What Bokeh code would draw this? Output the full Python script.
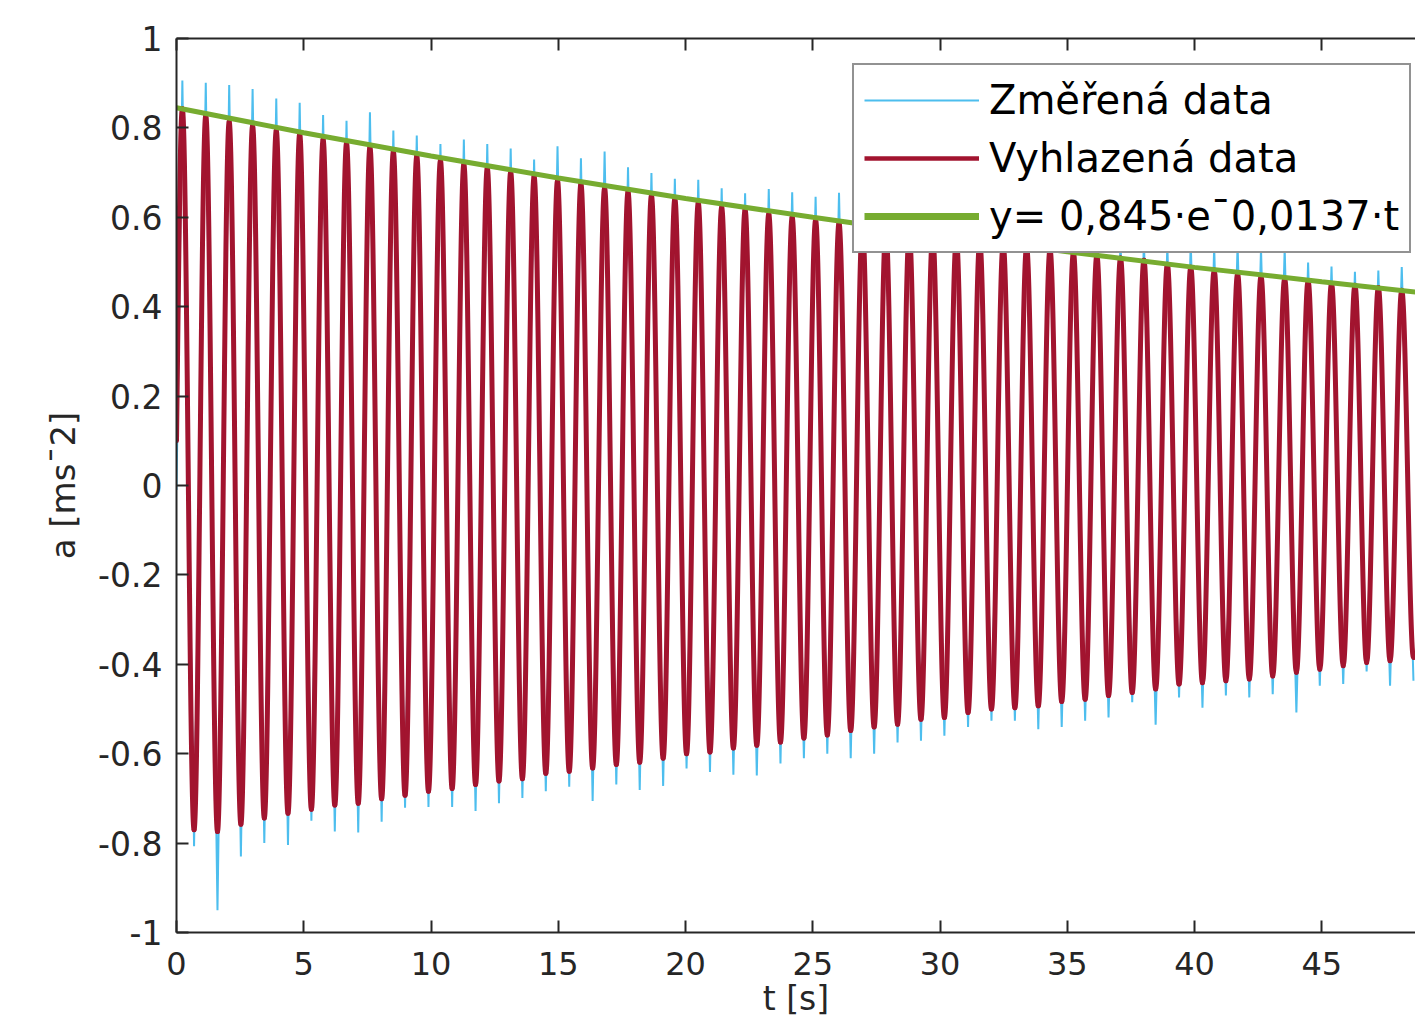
from bokeh.plotting import figure
from bokeh.models import (Range1d, LinearAxis, FixedTicker, Legend, LegendItem,
                          ColumnDataSource)
from bokeh.embed import file_html
from bokeh.resources import INLINE

# ---------------- data ----------------
start_t = 0.0
red_start = 0.10
blue_start = -0.01

peak_t = [0.23, 1.15, 2.07, 2.99, 3.92, 4.84, 5.76, 6.68, 7.60, 8.52,
          9.44, 10.37, 11.29, 12.21, 13.13, 14.05, 14.97, 15.89, 16.82, 17.74,
          18.66, 19.58, 20.50, 21.42, 22.34, 23.27, 24.19, 25.11, 26.03, 26.95,
          27.87, 28.79, 29.71, 30.64, 31.56, 32.48, 33.40, 34.32, 35.24, 36.16,
          37.09, 38.01, 38.93, 39.85, 40.77, 41.69, 42.61, 43.54, 44.46, 45.38,
          46.30, 47.22, 48.14]
red_peak = [0.843, 0.828, 0.814, 0.805, 0.794, 0.787, 0.774, 0.766, 0.757, 0.747,
            0.737, 0.727, 0.718, 0.710, 0.701, 0.691, 0.682, 0.675, 0.665, 0.657,
            0.649, 0.641, 0.632, 0.622, 0.617, 0.607, 0.600, 0.594, 0.587, 0.581,
            0.574, 0.567, 0.560, 0.553, 0.547, 0.540, 0.534, 0.528, 0.521, 0.515,
            0.509, 0.504, 0.495, 0.488, 0.482, 0.474, 0.468, 0.463, 0.458, 0.452,
            0.448, 0.443, 0.437]
blue_peak = [0.906, 0.901, 0.896, 0.887, 0.866, 0.856, 0.829, 0.816, 0.835, 0.794,
             0.783, 0.764, 0.774, 0.764, 0.754, 0.729, 0.759, 0.732, 0.747, 0.712,
             0.699, 0.686, 0.684, 0.665, 0.654, 0.663, 0.656, 0.646, 0.655, 0.630,
             0.620, 0.640, 0.610, 0.620, 0.600, 0.590, 0.600, 0.580, 0.570, 0.580,
             0.550, 0.550, 0.540, 0.545, 0.535, 0.540, 0.530, 0.530, 0.499, 0.490,
             0.478, 0.481, 0.489]

trough_t = [0.69, 1.61, 2.53, 3.45, 4.38, 5.30, 6.22, 7.14, 8.06, 8.98,
            9.90, 10.83, 11.75, 12.67, 13.59, 14.51, 15.43, 16.35, 17.28, 18.20,
            19.12, 20.04, 20.96, 21.88, 22.80, 23.73, 24.65, 25.57, 26.49, 27.41,
            28.33, 29.25, 30.17, 31.10, 32.02, 32.94, 33.86, 34.78, 35.70, 36.62,
            37.55, 38.47, 39.39, 40.31, 41.23, 42.15, 43.07, 44.00, 44.92, 45.84,
            46.76, 47.68, 48.60]
red_trough = [-0.770, -0.774, -0.758, -0.744, -0.733, -0.724, -0.715, -0.711, -0.701, -0.693,
              -0.684, -0.678, -0.669, -0.661, -0.656, -0.644, -0.639, -0.632, -0.624, -0.619,
              -0.610, -0.600, -0.596, -0.587, -0.581, -0.574, -0.565, -0.558, -0.548, -0.540,
              -0.534, -0.523, -0.519, -0.508, -0.500, -0.497, -0.493, -0.483, -0.478, -0.470,
              -0.463, -0.455, -0.444, -0.441, -0.437, -0.433, -0.426, -0.418, -0.411, -0.403,
              -0.396, -0.392, -0.385]
blue_trough = [-0.807, -0.950, -0.830, -0.800, -0.804, -0.750, -0.774, -0.776, -0.752, -0.721,
               -0.719, -0.719, -0.728, -0.711, -0.699, -0.684, -0.674, -0.706, -0.669, -0.681,
               -0.672, -0.633, -0.641, -0.647, -0.649, -0.622, -0.610, -0.600, -0.610, -0.600,
               -0.575, -0.571, -0.560, -0.540, -0.526, -0.526, -0.545, -0.540, -0.526, -0.519,
               -0.485, -0.535, -0.474, -0.497, -0.470, -0.474, -0.467, -0.508, -0.448, -0.444,
               -0.416, -0.448, -0.437]

fit_t = [0, 5, 10, 15, 20, 25, 30, 35, 40, 45, 48.68]
fit_v = [0.845, 0.789, 0.737, 0.688, 0.642, 0.600, 0.560, 0.523, 0.488, 0.456, 0.433]

x_ticks = [0, 5, 10, 15, 20, 25, 30, 35, 40, 45]
x_tick_labels = ["0", "5", "10", "15", "20", "25", "30", "35", "40", "45"]
y_ticks = [-1, -0.8, -0.6, -0.4, -0.2, 0, 0.2, 0.4, 0.6, 0.8, 1]
y_tick_labels = ["-1", "-0.8", "-0.6", "-0.4", "-0.2", "0", "0.2", "0.4", "0.6", "0.8", "1"]
legend_labels = ["Změřená data", "Vyhlazená data", "y= 0,845·e¯0,0137·t"]
x_label = "t [s]"
y_label = "a [ms¯2]"

# ---------------- style ----------------
BLUE = "#4DBEEE"
RED = "#A2142F"
GREEN = "#77AC30"
AX = "#262626"
FONT = "DejaVu Sans"
K = 0.363  # bezier handle fraction (sine-like lobes)

# series assembled from the read values
red_t, red_v = [start_t], [red_start]
blue_t, blue_v = [start_t], [blue_start]
for pt, rp, bp, tt, rt, bt in zip(peak_t, red_peak, blue_peak, trough_t, red_trough, blue_trough):
    red_t += [pt, tt]
    red_v += [rp, rt]
    blue_t += [pt, tt]
    blue_v += [bp, bt]

seg = dict(x0=[], y0=[], x1=[], y1=[], cx0=[], cy0=[], cx1=[], cy1=[])
for i in range(len(red_t) - 1):
    xa, ya, xb, yb = red_t[i], red_v[i], red_t[i + 1], red_v[i + 1]
    h = xb - xa
    seg["x0"].append(xa); seg["y0"].append(ya)
    seg["x1"].append(xb); seg["y1"].append(yb)
    if i == 0:
        seg["cx0"].append(xa + K * h); seg["cy0"].append(ya + 0.5 * (yb - ya))
    else:
        seg["cx0"].append(xa + K * h); seg["cy0"].append(ya)
    seg["cx1"].append(xb - K * h); seg["cy1"].append(yb)
red_src = ColumnDataSource(seg)

p = figure(width=1415, height=1031,
           x_range=Range1d(0, 48.68), y_range=Range1d(-1, 1),
           x_axis_type=None, y_axis_type=None,
           output_backend="svg", toolbar_location=None,
           min_border_left=176, min_border_right=0,
           min_border_top=38, min_border_bottom=99)
p.outline_line_color = None
p.background_fill_color = "white"
p.border_fill_color = "white"


def style_axis(ax, size="32px"):
    ax.axis_line_color = AX
    ax.axis_line_width = 2
    ax.major_tick_in = 12
    ax.major_tick_out = 0
    ax.major_tick_line_color = AX
    ax.major_tick_line_width = 2
    ax.minor_tick_line_color = None
    ax.major_label_text_font = FONT
    ax.major_label_text_font_size = size
    ax.major_label_text_color = AX


xb = LinearAxis(ticker=FixedTicker(ticks=x_ticks),
                major_label_overrides=dict(zip(x_ticks, x_tick_labels)),
                axis_label=x_label)
style_axis(xb)
xb.major_label_standoff = 19
xb.axis_label_text_font = FONT
xb.axis_label_text_font_size = "33px"
xb.axis_label_text_font_style = "normal"
xb.axis_label_text_color = AX
xb.axis_label_standoff = 1
p.add_layout(xb, "below")

xt = LinearAxis(ticker=FixedTicker(ticks=x_ticks),
                major_label_overrides={t: "" for t in x_ticks})
style_axis(xt, size="1px")
xt.major_label_standoff = 0
p.add_layout(xt, "above")

yl = LinearAxis(ticker=FixedTicker(ticks=y_ticks),
                major_label_overrides=dict(zip(y_ticks, y_tick_labels)),
                axis_label=y_label)
style_axis(yl, size="33px")
yl.major_label_standoff = 14
yl.axis_label_text_font = FONT
yl.axis_label_text_font_size = "34px"
yl.axis_label_text_font_style = "normal"
yl.axis_label_text_color = AX
yl.axis_label_standoff = 12
p.add_layout(yl, "left")

# data
p.line(blue_t, blue_v, line_color=BLUE, line_width=2)
p.bezier(x0="x0", y0="y0", x1="x1", y1="y1", cx0="cx0", cy0="cy0",
         cx1="cx1", cy1="cy1", source=red_src, line_color=RED,
         line_width=5, line_cap="round")
p.line(fit_t, fit_v, line_color=GREEN, line_width=5)

# legend keys (single point lines: draw nothing in the plot)
k_blue = p.line([blue_t[0]], [blue_v[0]], line_color=BLUE, line_width=2)
k_red = p.line([red_t[0]], [red_v[0]], line_color=RED, line_width=4.5)
k_green = p.line([fit_t[0]], [fit_v[0]], line_color=GREEN, line_width=7)

legend = Legend(items=[LegendItem(label=legend_labels[0], renderers=[k_blue]),
                       LegendItem(label=legend_labels[1], renderers=[k_red]),
                       LegendItem(label=legend_labels[2], renderers=[k_green])],
                location=(676, 679))
legend.label_text_font = FONT
legend.label_text_font_size = "40px"
legend.label_text_color = "black"
legend.glyph_width = 115
legend.glyph_height = 50
legend.label_height = 50
legend.label_standoff = 10
legend.padding = 10
legend.spacing = 8
legend.margin = 0
legend.border_line_color = AX
legend.border_line_width = 2
legend.background_fill_color = "white"
legend.background_fill_alpha = 1.0
p.add_layout(legend)

open("out.html", "w").write(file_html(p, INLINE))
